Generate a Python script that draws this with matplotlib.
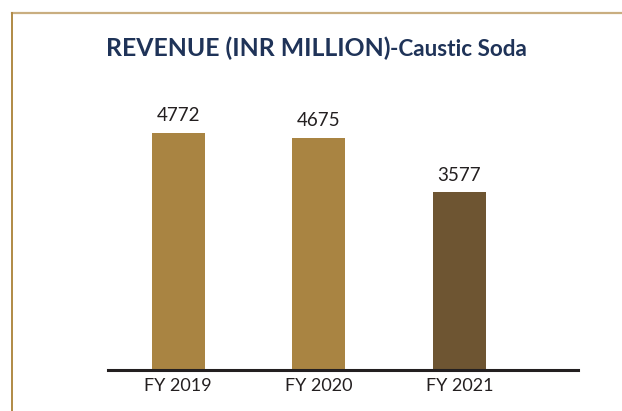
import matplotlib
matplotlib.use("Agg")
import matplotlib.pyplot as plt
from matplotlib.lines import Line2D

categories = ["FY 2019", "FY 2020", "FY 2021"]
values = [4772, 4675, 3577]
bar_colors = ["#A98442", "#A98442", "#6E5532"]

W, H = 622, 411
fig = plt.figure(figsize=(W / 100, H / 100), dpi=100)
fig.patch.set_facecolor("white")

# decorative border (top and left)
fig.add_artist(Line2D([12 / W, 1.0], [1 - 13 / H, 1 - 13 / H], color="#C9AE80", lw=1.6, transform=fig.transFigure))
fig.add_artist(Line2D([12 / W, 12 / W], [1 - 13 / H, 0.0], color="#B08A45", lw=1.4, transform=fig.transFigure))

ax = fig.add_axes([108 / W, 41 / H, 470 / W, 270 / H])
x = list(range(len(categories)))
bars = ax.bar(x, values, width=0.377, color=bar_colors, zorder=2)
ax.set_xlim(-0.5, 2.845)
ax.set_ylim(0, 5432)
for s in ["top", "right", "left"]:
    ax.spines[s].set_visible(False)
ax.spines["bottom"].set_color("#231F20")
ax.spines["bottom"].set_linewidth(2.2)
ax.set_yticks([])
ax.set_xticks(x)
ax.set_xticklabels(categories, fontsize=13, color="#231F20", family="Lato")
ax.tick_params(axis="x", length=0, pad=6)

for xi, v in zip(x, values):
    ax.annotate(str(v), (xi, v), xytext=(0, 6), textcoords="offset points",
                ha="center", va="bottom", fontsize=13.5, color="#231F20", family="Lato")

# title in two parts
navy = "#1F3358"
t1 = fig.text(106 / W, 1 - 56 / H, "REVENUE (INR MILLION)", fontsize=17.8, fontweight="bold",
              color=navy, family="Lato", ha="left", va="baseline")
fig.canvas.draw()
r = fig.canvas.get_renderer()
bb = t1.get_window_extent(renderer=r)
fig.text(bb.x1 / W, 1 - 56 / H, "-Caustic Soda", fontsize=16.2, fontweight="bold",
         color=navy, family="Lato", ha="left", va="baseline")

fig.savefig("out.png", dpi=100)
